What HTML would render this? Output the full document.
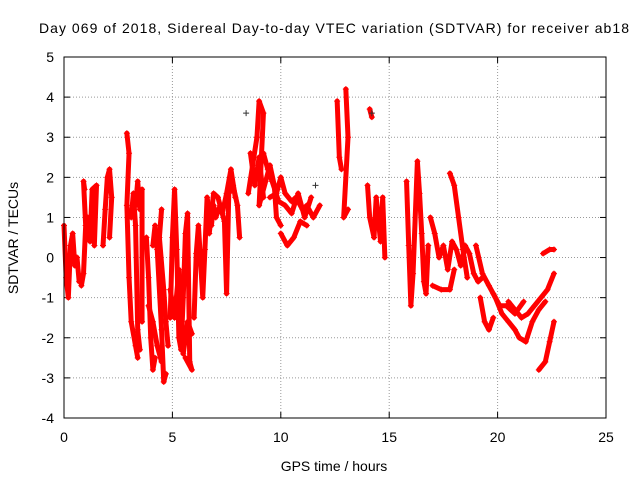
<!DOCTYPE html>
<html><head><meta charset="utf-8"><style>
body{margin:0;background:#fff}
svg text{font-family:"Liberation Sans",sans-serif;font-size:14px;fill:#000}
</style></head><body>
<svg id="c" width="640" height="480" xmlns="http://www.w3.org/2000/svg">
<rect width="640" height="480" fill="#fff"/>
<text x="334" y="33" text-anchor="middle" textLength="590">Day 069 of 2018, Sidereal Day-to-day VTEC variation (SDTVAR) for receiver ab18</text>
<text x="334" y="471" text-anchor="middle">GPS time / hours</text>
<text transform="translate(18,238) rotate(-90)" text-anchor="middle">SDTVAR / TECUs</text>
<g id="grid"></g><g id="ticks"></g><g id="series"></g>
<rect x="64" y="57" width="542" height="361" fill="none" stroke="#000"/>
</svg>
<script>
const xTicks=[0,5,10,15,20,25];
const yTicks=[-4,-3,-2,-1,0,1,2,3,4,5];
const tracks=[
[[0,0.8],[0.1,-0.5],[0.2,-1],[0.3,0.3],[0.4,0.6],[0.5,-0.2],[0.6,0],[0.7,-0.6]],
[[0.8,-0.7],[0.9,-0.4],[1.0,0.8],[0.9,1.9],[0.95,1.7]],
[[1.1,1.0],[1.2,0.4],[1.3,1.7],[1.5,1.8],[1.4,0.3]],
[[1.8,0.3],[1.9,1.2],[2.0,2.0],[2.1,2.2],[2.2,1.5],[2.1,0.5]],
[[2.9,3.1],[3.0,2.6],[2.9,1.3],[3.0,-0.5],[3.1,-1.6],[3.3,-2.2],[3.4,-2.5]],
[[3.3,1.3],[3.4,1.9],[3.5,1.2],[3.6,1.7],[3.6,-1.6]],
[[3.1,1.0],[3.2,1.6],[3.3,0.8],[3.4,-1.8],[3.5,-2.3]],
[[3.8,0.5],[3.9,-0.5],[4.0,-2.0],[4.1,-2.8],[4.2,-2.5]],
[[3.9,-1.2],[4.1,-1.6],[4.3,-2.2],[4.5,-2.6]],
[[4.1,0.3],[4.2,0.8],[4.3,0.2],[4.5,-1.8],[4.6,-3.1],[4.7,-2.9]],
[[4.5,1.2],[4.4,0.5],[4.6,-0.8],[4.7,-1.6],[4.8,-2.2]],
[[4.9,-1.5],[5.0,0.5],[5.1,1.7],[5.2,0.2],[5.3,-2.0],[5.4,-2.3],[5.5,-1.0],[5.6,0.6],[5.7,1.1],[5.8,-2.6],[5.9,-2.8],[5.6,-2.5]],
[[4.9,-0.8],[5.1,-1.5],[5.3,-0.3],[5.5,-2.4],[5.7,-1.6],[5.9,-1.9]],
[[6.0,-1.5],[6.1,0.1],[6.2,0.8],[6.4,-1.0],[6.5,0.2],[6.6,1.5],[6.8,0.8],[6.9,1.3],[7.0,1.0],[7.2,1.3],[7.4,0.9],[7.5,-0.9],[7.6,1.6],[7.8,1.8],[8.0,1.3],[8.1,0.5]],
[[6.7,0.6],[6.9,1.6],[7.1,1.5],[7.3,1.1],[7.5,1.6],[7.7,2.2],[7.9,1.5]],
[[8.5,1.6],[8.7,2.3],[8.9,3.0],[9.0,3.9],[9.2,3.6],[9.0,1.3],[9.3,1.9],[9.5,2.3],[9.7,1.8],[9.8,1.0],[10.0,0.8]],
[[8.6,2.6],[8.8,1.8],[9.0,2.5],[9.2,1.5]],
[[9.5,1.5],[9.8,1.6],[10.0,2.0],[10.2,1.6],[10.5,1.4],[10.7,1.5],[11.0,1.2],[11.2,1.3],[11.5,1.0],[11.8,1.3]],
[[9.2,2.6],[9.4,2.2],[9.6,1.9],[9.9,1.4],[10.2,1.3],[10.5,1.1],[10.8,1.6],[11.1,1.0],[11.4,1.5]],
[[10.0,0.6],[10.3,0.3],[10.6,0.5],[10.9,0.9],[11.2,0.8]],
[[12.6,3.9],[12.7,2.5],[12.8,2.2]],
[[13.0,4.2],[13.1,3.0],[12.9,1.0],[13.1,1.2]],
[[14.1,3.7],[14.2,3.5]],
[[14.0,1.8],[14.1,1.0],[14.3,0.5],[14.4,1.5],[14.6,0.4],[14.7,1.5],[14.8,0]],
[[15.8,1.9],[15.9,0.3],[16.0,-1.2],[16.1,-0.4],[16.3,2.4],[16.4,1.6],[16.5,0.6],[16.6,-0.6],[16.7,-0.9],[16.8,0.3]],
[[16.9,1.0],[17.1,0.6],[17.3,0.0],[17.5,0.3],[17.7,-0.3],[17.9,0.4],[18.1,0.2],[18.3,-0.2],[18.5,0.3],[18.7,0.1],[18.9,-0.4],[19.1,-0.6],[19.3,-0.5]],
[[17.0,-0.7],[17.4,-0.8],[17.8,-0.8],[18.0,-0.3]],
[[17.8,2.1],[18.0,1.8],[18.2,1.0],[18.4,0.2],[18.6,-0.5]],
[[19.0,0.3],[19.3,-0.4],[19.6,-0.7],[19.9,-1.0],[20.2,-1.4],[20.5,-1.6],[20.8,-1.8],[21.0,-2.0],[21.3,-2.1],[21.6,-1.6],[21.9,-1.3],[22.2,-1.1]],
[[19.2,-1.0],[19.4,-1.6],[19.6,-1.8],[19.8,-1.5]],
[[20.5,-1.1],[20.8,-1.3],[21.1,-1.5],[21.4,-1.4],[21.7,-1.2],[22.0,-1.0],[22.3,-0.8],[22.6,-0.4]],
[[21.9,-2.8],[22.2,-2.6],[22.4,-2.1],[22.6,-1.6]],
[[22.1,0.1],[22.4,0.2],[22.6,0.2]],
[[19.8,-0.9],[20.1,-1.2],[20.4,-1.2],[20.8,-1.4],[21.2,-1.1]]
];
const darkPoints=[[8.4,3.6],[14.2,3.6],[11.6,1.8]];
const NS='http://www.w3.org/2000/svg';
const X0=64,X1=606,Y0=418,Y1=57,xmin=0,xmax=25,ymin=-4,ymax=5;
function sx(v){return X0+(v-xmin)/(xmax-xmin)*(X1-X0);}
function sy(v){return Y0-(v-ymin)/(ymax-ymin)*(Y0-Y1);}
function mk(t,a,p){const e=document.createElementNS(NS,t);for(const k in a)e.setAttribute(k,a[k]);p.appendChild(e);return e;}
const grid=document.getElementById('grid'),ticks=document.getElementById('ticks'),ser=document.getElementById('series');
xTicks.forEach(v=>{const x=sx(v);
 if(v>xmin&&v<xmax){const g=mk('line',{x1:x,x2:x,y1:Y0,y2:Y1,stroke:'#999','stroke-dasharray':'1,2'},grid);}
 mk('line',{x1:x,x2:x,y1:Y0,y2:Y0-6,stroke:'#000'},ticks);mk('line',{x1:x,x2:x,y1:Y1,y2:Y1+6,stroke:'#000'},ticks);
 const t=mk('text',{x:x,y:Y0+24,'text-anchor':'middle'},ticks);t.textContent=v;
 
 });
yTicks.forEach(v=>{const y=sy(v);
 if(v>ymin&&v<ymax){const g=mk('line',{x1:X0,x2:X1,y1:y,y2:y,stroke:'#999','stroke-dasharray':'1,2'},grid);}
 mk('line',{x1:X0,x2:X0+6,y1:y,y2:y,stroke:'#000'},ticks);mk('line',{x1:X1,x2:X1-6,y1:y,y2:y,stroke:'#000'},ticks);
 const t=mk('text',{x:X0-10,y:y+5,'text-anchor':'end'},ticks);t.textContent=v;
 
 });
function plus(x,y,c,p){mk('path',{d:`M${x-3} ${y}h6M${x} ${y-3}v6`,stroke:c,'stroke-width':1},p);}
tracks.forEach(tr=>{
 const g=mk('g',{},ser);
 
 
 mk('polyline',{points:tr.map(p=>sx(p[0])+','+sy(p[1])).join(' '),fill:'none',stroke:'#f00','stroke-width':5,'stroke-linejoin':'round','stroke-linecap':'round'},g);
 tr.forEach(p=>plus(sx(p[0]),sy(p[1]),'#f00',g));
});
darkPoints.forEach(p=>{const g=mk('g',{},ser);
 
 
 plus(sx(p[0]),sy(p[1]),'#333',g);});
</script>
</body></html>
